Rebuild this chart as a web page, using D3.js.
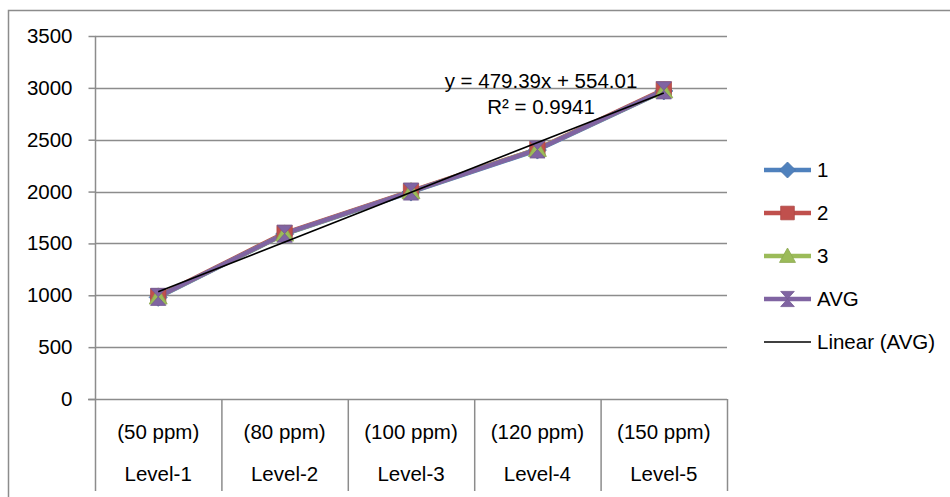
<!DOCTYPE html>
<html><head><meta charset="utf-8">
<script src="https://cdn.jsdelivr.net/npm/d3@7/dist/d3.min.js"></script>
<style>
html,body{margin:0;padding:0;background:#fff;}
svg{display:block;font-family:"Liberation Sans",Arial,sans-serif;}
</style></head>
<body>
<svg id="chart" width="950" height="497"></svg>
<script>
// ---- data ----
const levels = ["Level-1","Level-2","Level-3","Level-4","Level-5"];
const concentrations = ["(50 ppm)","(80 ppm)","(100 ppm)","(120 ppm)","(150 ppm)"];
const series1 = [980, 1590, 1995, 2400, 2970];
const series2 = [990, 1600, 2005, 2410, 2985];
const series3 = [985, 1592, 2000, 2408, 2973];
const seriesAvg = [985, 1594, 2000, 2406, 2976];
const seriesNames = ["1","2","3","AVG"];
const yTicks = [0,500,1000,1500,2000,2500,3000,3500];
const trendSlope = 479.39;
const trendIntercept = 554.01;
const trendLabel = ["y = 479.39x + 554.01","R² = 0.9941"];
const trendName = "Linear (AVG)";

// ---- layout ----
const svg = d3.select("#chart");
const L = 95, R = 727, T = 36, B = 399;
const colors = ["#4F81BD","#C0504D","#9BBB59","#8064A2"];
const markers = ["diamond","square","triangle","hourglass"];
const fs = 20.5;

const x = d3.scaleBand().domain(levels).range([L,R]).padding(0);
const cx = d => x(d) + x.bandwidth()/2;
const y = d3.scaleLinear().domain([0,3500]).range([B,T]);

// outer border
svg.append("rect").attr("x",8.5).attr("y",10.5).attr("width",960).attr("height",500)
  .attr("fill","none").attr("stroke","#8c8c8c").attr("stroke-width",1.5);

// gridlines
svg.append("g").selectAll("line").data(yTicks.filter(t=>t>0)).join("line")
  .attr("x1",L).attr("x2",R).attr("y1",d=>Math.round(y(d))+0.5).attr("y2",d=>Math.round(y(d))+0.5)
  .attr("stroke","#8c8c8c").attr("stroke-width",1.5);

// y axis
const yAxis = d3.axisLeft(y).tickValues(yTicks).tickSize(7).tickPadding(16).tickFormat(d3.format("d"));
const gy = svg.append("g").attr("transform",`translate(${L+0.5},0)`).call(yAxis);
gy.select(".domain").remove();
gy.selectAll(".tick line").attr("stroke","#8c8c8c").attr("stroke-width",1.5);
gy.selectAll(".tick text").attr("font-size",fs).attr("fill","#000")
  .attr("font-family","'Liberation Sans',Arial,sans-serif");
svg.append("line").attr("x1",L+0.5).attr("x2",L+0.5).attr("y1",T).attr("y2",491)
  .attr("stroke","#8c8c8c").attr("stroke-width",1.5);

// x axis baseline and category separators
svg.append("line").attr("x1",L-7).attr("x2",R).attr("y1",B+0.5).attr("y2",B+0.5)
  .attr("stroke","#8c8c8c").attr("stroke-width",1.5);
svg.append("g").selectAll("line").data(levels).join("line")
  .attr("x1",d=>x(d)+x.bandwidth()+0.5).attr("x2",d=>x(d)+x.bandwidth()+0.5)
  .attr("y1",B).attr("y2",491).attr("stroke","#8c8c8c").attr("stroke-width",1.5);
svg.append("g").selectAll("text").data(concentrations).join("text")
  .attr("x",(d,i)=>cx(levels[i])).attr("y",439).attr("text-anchor","middle")
  .attr("font-size",fs).text(d=>d);
svg.append("g").selectAll("text").data(levels).join("text")
  .attr("x",d=>cx(d)).attr("y",481).attr("text-anchor","middle")
  .attr("font-size",fs).text(d=>d);

// marker path generator
function markerPath(type, s){
  switch(type){
    case "diamond": return `M0,${-s}L${s},0L0,${s}L${-s},0Z`;
    case "square": return `M${-s*0.85},${-s*0.85}H${s*0.85}V${s*0.85}H${-s*0.85}Z`;
    case "triangle": return `M0,${-s}L${s},${s*0.8}L${-s},${s*0.8}Z`;
    case "hourglass": return `M${-s*0.85},${-s*0.95}H${s*0.85}L0,0Z M${-s*0.85},${s*0.95}H${s*0.85}L0,0Z`;
  }
}

const allSeries = [series1, series2, series3, seriesAvg];
const line = d3.line().x((d,i)=>cx(levels[i])).y(d=>y(d));

allSeries.forEach((vals,k)=>{
  svg.append("path").datum(vals).attr("d",line).attr("fill","none")
    .attr("stroke",colors[k]).attr("stroke-width",4.5).attr("stroke-linejoin","round");
});
allSeries.forEach((vals,k)=>{
  svg.append("g").selectAll("path").data(vals).join("path")
    .attr("transform",(d,i)=>`translate(${cx(levels[i])},${y(d)})`)
    .attr("d",markerPath(markers[k],9))
    .attr("fill",colors[k]).attr("stroke",d3.color(colors[k]).darker(0.3)).attr("stroke-width",0.8);
});

// trend line
const xIdx = d3.scaleLinear().domain([1,5]).range([cx(levels[0]),cx(levels[4])]);
svg.append("line")
  .attr("x1",xIdx(1)).attr("y1",y(trendSlope*1+trendIntercept))
  .attr("x2",xIdx(5)).attr("y2",y(trendSlope*5+trendIntercept))
  .attr("stroke","#000").attr("stroke-width",1.6);

// trend label
svg.append("text").attr("x",541).attr("y",88).attr("text-anchor","middle").attr("font-size",fs).text(trendLabel[0]);
svg.append("text").attr("x",541).attr("y",114).attr("text-anchor","middle").attr("font-size",fs).text(trendLabel[1]);

// legend
const legY = [170,213,256,299,342];
const lg = svg.append("g");
seriesNames.forEach((n,k)=>{
  lg.append("line").attr("x1",764).attr("x2",811).attr("y1",legY[k]).attr("y2",legY[k])
    .attr("stroke",colors[k]).attr("stroke-width",4.5);
  lg.append("path").attr("transform",`translate(787.5,${legY[k]})`).attr("d",markerPath(markers[k],8))
    .attr("fill",colors[k]).attr("stroke",d3.color(colors[k]).darker(0.3)).attr("stroke-width",0.8);
  lg.append("text").attr("x",817).attr("y",legY[k]+7).attr("font-size",fs).text(n);
});
lg.append("line").attr("x1",764).attr("x2",811).attr("y1",legY[4]).attr("y2",legY[4])
  .attr("stroke","#000").attr("stroke-width",1.6);
lg.append("text").attr("x",817).attr("y",legY[4]+7).attr("font-size",fs).text(trendName);
</script>
</body></html>
